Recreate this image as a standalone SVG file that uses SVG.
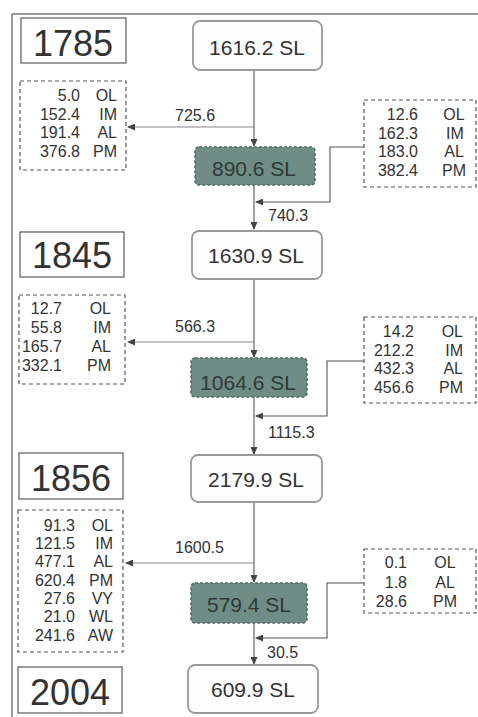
<svg xmlns="http://www.w3.org/2000/svg" width="478" height="717" viewBox="0 0 478 717">
<style>
text{font-family:"Liberation Sans",Arial,sans-serif;fill:#333}
.year rect{fill:#fff;stroke:#666;stroke-width:1.3}
.year text{font-size:36px;text-anchor:middle}
.node rect{fill:#fdfdfd;stroke:#9a9a9a;stroke-width:1.8}
.dark rect{fill:#6f8c85;stroke:#526b65;stroke-width:1.5;stroke-dasharray:3 2}
.node text,.dark text{font-size:21px;text-anchor:middle}
.dark text{fill:#2e3a37}
.box rect{fill:#fff;stroke:#555;stroke-width:1.2;stroke-dasharray:4 3}
.box text{font-size:16px}
.n{text-anchor:end}
.le{text-anchor:end}
.lm{text-anchor:middle}
.conn path,.conn line{fill:none;stroke:#555;stroke-width:1.1}
.conn .br{stroke:#888}
.el{font-size:16px}
</style>
<defs>
<marker id="ah" markerWidth="8" markerHeight="7" refX="7" refY="3.5" orient="auto" markerUnits="userSpaceOnUse">
<path d="M0,0 L8,3.5 L0,7 Z" fill="#444"/>
</marker>
</defs>
<rect width="478" height="717" fill="#fff"/>
<g id="frame">
<line x1="12" y1="14" x2="478" y2="14" stroke="#777" stroke-width="1.5"/>
<line x1="12" y1="14" x2="12" y2="717" stroke="#777" stroke-width="1.5"/>
</g>
<g class="conn" id="connectors">
<line x1="254" y1="70" x2="254" y2="146" marker-end="url(#ah)"/>
<line x1="254" y1="185" x2="254" y2="229" marker-end="url(#ah)"/>
<line x1="254" y1="279" x2="254" y2="357" marker-end="url(#ah)"/>
<line x1="254" y1="397" x2="254" y2="454" marker-end="url(#ah)"/>
<line x1="254" y1="502" x2="254" y2="582" marker-end="url(#ah)"/>
<line x1="254" y1="623" x2="254" y2="664" marker-end="url(#ah)"/>
<line class="br" x1="254" y1="127" x2="128" y2="127" marker-end="url(#ah)"/>
<line class="br" x1="254" y1="342" x2="128" y2="342" marker-end="url(#ah)"/>
<line class="br" x1="254" y1="563" x2="126" y2="563" marker-end="url(#ah)"/>
<path d="M364,147 H330 V202 H256" marker-end="url(#ah)"/>
<path d="M364,361 H327 V416 H256" marker-end="url(#ah)"/>
<path d="M364,583 H327 V638 H256" marker-end="url(#ah)"/>
<text class="el" x="175" y="121">725.6</text>
<text class="el" x="268" y="221">740.3</text>
<text class="el" x="175" y="332">566.3</text>
<text class="el" x="268" y="438">1115.3</text>
<text class="el" x="175" y="553">1600.5</text>
<text class="el" x="267" y="658">30.5</text>
</g>
<g id="y1785" class="year"><rect x="21" y="18" width="105" height="45"/><text x="73" y="56">1785</text></g>
<g id="y1845" class="year"><rect x="20" y="232" width="104" height="45"/><text x="72" y="268">1845</text></g>
<g id="y1856" class="year"><rect x="19" y="453" width="104" height="46"/><text x="71" y="491">1856</text></g>
<g id="y2004" class="year"><rect x="18" y="667" width="104" height="46"/><text x="70" y="705">2004</text></g>
<g id="n1616" class="node"><rect x="193" y="21" width="129" height="49" rx="7"/><text x="257" y="55">1616.2 SL</text></g>
<g id="n890" class="dark"><rect x="195" y="147" width="120" height="38" rx="4"/><text x="254" y="176">890.6 SL</text></g>
<g id="n1630" class="node"><rect x="192" y="231" width="130" height="48" rx="7"/><text x="256" y="263">1630.9 SL</text></g>
<g id="n1064" class="dark"><rect x="191" y="358" width="116" height="39" rx="4"/><text x="248" y="390">1064.6 SL</text></g>
<g id="n2179" class="node"><rect x="191" y="455" width="131" height="47" rx="7"/><text x="256" y="487">2179.9 SL</text></g>
<g id="n579" class="dark"><rect x="191" y="583" width="116" height="40" rx="4"/><text x="249" y="612">579.4 SL</text></g>
<g id="n609" class="node"><rect x="188" y="665" width="130" height="48" rx="7"/><text x="253" y="697">609.9 SL</text></g>
<g id="bl1" class="box"><rect x="20" y="81" width="106" height="89"/>
<text class="n" x="80" y="101">5.0</text><text class="le" x="117" y="101">OL</text>
<text class="n" x="80" y="120">152.4</text><text class="le" x="117" y="120">IM</text>
<text class="n" x="80" y="138">191.4</text><text class="le" x="117" y="138">AL</text>
<text class="n" x="80" y="157">376.8</text><text class="le" x="117" y="157">PM</text></g>
<g id="br1" class="box"><rect x="364" y="100" width="112" height="87"/>
<text class="n" x="418" y="120">12.6</text><text class="lm" x="454" y="120">OL</text>
<text class="n" x="418" y="139">162.3</text><text class="lm" x="455" y="139">IM</text>
<text class="n" x="418" y="157">183.0</text><text class="lm" x="454" y="157">AL</text>
<text class="n" x="418" y="176">382.4</text><text class="lm" x="454" y="176">PM</text></g>
<g id="bl2" class="box"><rect x="19" y="295" width="106" height="89"/>
<text class="n" x="62" y="314">12.7</text><text class="le" x="111" y="314">OL</text>
<text class="n" x="62" y="333">55.8</text><text class="le" x="111" y="333">IM</text>
<text class="n" x="62" y="352">165.7</text><text class="le" x="111" y="352">AL</text>
<text class="n" x="62" y="371">332.1</text><text class="le" x="111" y="371">PM</text></g>
<g id="br2" class="box"><rect x="364" y="317" width="112" height="86"/>
<text class="n" x="414" y="337">14.2</text><text class="le" x="463" y="337">OL</text>
<text class="n" x="414" y="356">212.2</text><text class="le" x="463" y="356">IM</text>
<text class="n" x="414" y="374">432.3</text><text class="le" x="463" y="374">AL</text>
<text class="n" x="414" y="393">456.6</text><text class="le" x="463" y="393">PM</text></g>
<g id="bl3" class="box"><rect x="18" y="510" width="105" height="142"/>
<text class="n" x="75" y="531">91.3</text><text class="le" x="113" y="531">OL</text>
<text class="n" x="75" y="549">121.5</text><text class="le" x="113" y="549">IM</text>
<text class="n" x="75" y="567">477.1</text><text class="le" x="113" y="567">AL</text>
<text class="n" x="75" y="586">620.4</text><text class="le" x="113" y="586">PM</text>
<text class="n" x="75" y="604">27.6</text><text class="le" x="113" y="604">VY</text>
<text class="n" x="75" y="622">21.0</text><text class="le" x="113" y="622">WL</text>
<text class="n" x="75" y="641">241.6</text><text class="le" x="113" y="641">AW</text></g>
<g id="br3" class="box"><rect x="364" y="549" width="112" height="64"/>
<text class="n" x="407" y="568">0.1</text><text class="lm" x="445" y="568">OL</text>
<text class="n" x="407" y="588">1.8</text><text class="lm" x="445" y="588">AL</text>
<text class="n" x="407" y="607">28.6</text><text class="lm" x="445" y="607">PM</text></g>
</svg>
